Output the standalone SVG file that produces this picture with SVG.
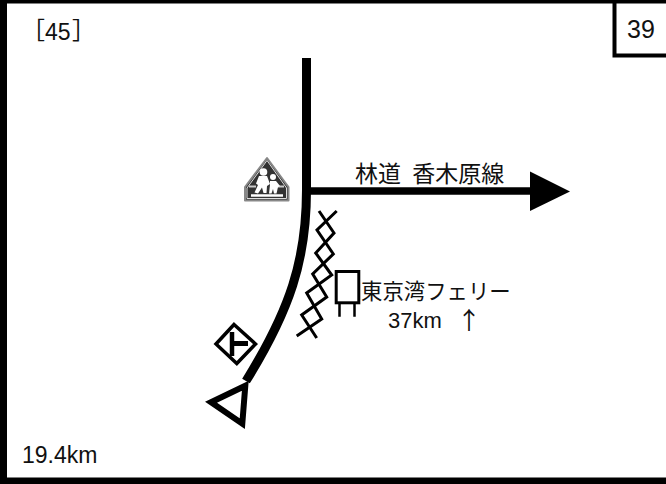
<svg xmlns="http://www.w3.org/2000/svg" width="666" height="484" viewBox="0 0 666 484">
<style>
.l{font-family:"Liberation Sans","Noto Sans CJK JP",sans-serif;fill:#111}
.j{font-family:"Noto Sans CJK JP",sans-serif;fill:#111}
.k{fill:none;stroke:#000;stroke-linejoin:miter}
</style>
<rect width="666" height="484" fill="#fff"/>
<g id="frame"><path d="M0 0H666V3.500H7V477.500H666V484H0Z" fill="#000"/><path d="M614.500 2V55.500H666" class="k" stroke-width="4"/></g>
<g id="connectors">
<path d="M306.500 58V190C306.500 260 290 310 246 381" class="k" stroke-width="9"/>
<path d="M308 191H532" class="k" stroke-width="7.500"/>
<path d="M530 171.500L570 191.500L530 211Z" fill="#000"/>
</g>
<g id="start"><path d="M211 402.300L245.300 385.700L242.300 423.700Z" class="k" stroke-width="6"/></g>
<g id="school-sign">
<path d="M267 158L288.500 187V200.500H245V187Z" fill="#333" stroke="#888" stroke-width="2" stroke-linejoin="round"/>
<path d="M267 160.500L286.500 188V198.500H247V188Z" fill="#333" stroke="#ddd" stroke-width="1"/>
<path d="M251 195.500H283" stroke="#fff" stroke-width="2.500"/>
<path d="M249 186.500H256M277 186.500H284" stroke="#ccc" stroke-width="2"/>
<g fill="#fff"><circle cx="263.500" cy="172" r="3.800"/><circle cx="273" cy="177" r="3"/>
<path d="M259 176H267L270 184L267 186L266.500 193H263.500L262 187.500L258 193.500L254.500 192.500L258 185L256 183.500Z"/>
<path d="M270 181H276L280 186L278 187L276.500 193.500H274L273 189L271.500 193.500H269L270 185Z"/></g>
</g>
<g id="junction-sign"><path d="M234 324.500L255.500 344L236.800 363.500L216 344Z" class="k" stroke-width="3.500"/><path d="M232 332V356" class="k" stroke-width="4.500"/><path d="M232 343.500H248" class="k" stroke-width="5"/></g>
<g id="railway"><path d="M296.700 336L321.700 319L306.700 293L331.700 275L315.700 253L334 233L319 211" class="k" stroke-width="3"/><path d="M316.700 338L301.700 315L326.700 297L312.700 274L333.300 254L317 230L336.700 211" class="k" stroke-width="3"/></g>
<g id="pylon"><rect x="336.200" y="271.500" width="22.600" height="31.300" class="k" stroke-width="3"/><path d="M339.500 304V316.700M354.500 304V316.700" class="k" stroke-width="2.500"/></g>
<g id="labels">
<text class="j" x="355" y="182" font-size="23" word-spacing="6">林道 香木原線</text>
<text class="j" x="361" y="299" font-size="21.400">東京湾フェリー</text>
<text class="l" x="388" y="328" font-size="22">37km</text>
<text class="j" x="457" y="329" font-size="24">↑</text>
<text class="l" x="22" y="463" font-size="23">19.4km</text>
<text class="l" x="627" y="38" font-size="25">39</text>
<text class="j" x="21" y="39" font-size="24">［</text>
<text class="l" x="45" y="40" font-size="23">45</text>
<text class="j" x="72" y="39" font-size="24">］</text>
</g>
</svg>
